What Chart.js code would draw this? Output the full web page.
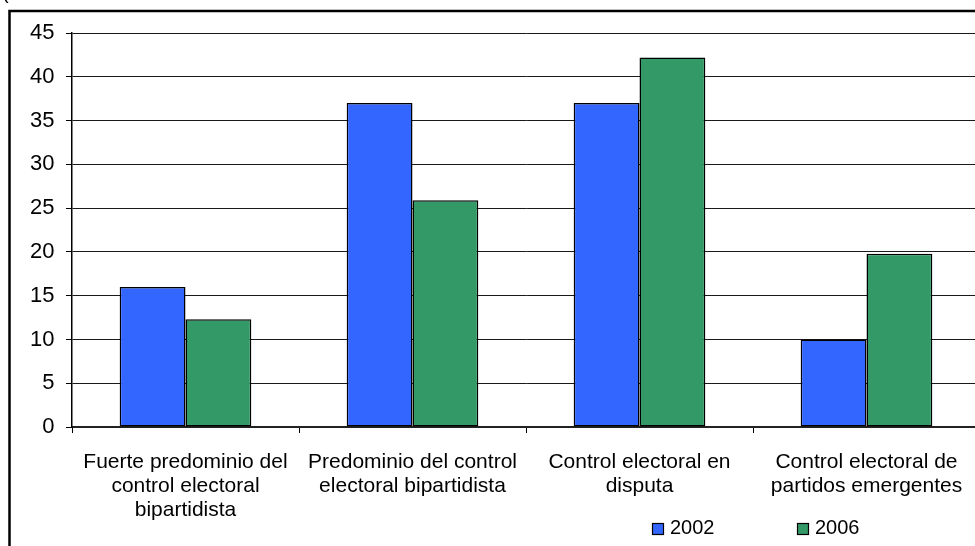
<!DOCTYPE html>
<html>
<head>
<meta charset="utf-8">
<script src="https://cdn.jsdelivr.net/npm/chart.js@4/dist/chart.umd.min.js"></script>
<style>
  html, body { margin: 0; padding: 0; background: #fff; overflow: hidden; }
  #wrap { position: relative; width: 1000px; height: 546px; }
</style>
</head>
<body>
<div id="wrap"><canvas id="c" width="1000" height="546"></canvas></div>
<script>
// Municipal electoral control types, share per year
const categories = [
  ["Fuerte predominio del", "control electoral", "bipartidista"],
  ["Predominio del control", "electoral bipartidista"],
  ["Control electoral en", "disputa"],
  ["Control electoral de", "partidos emergentes"]
];
const seriesNames = ["2002", "2006"];
const values2002 = [16.0, 37.0, 37.0, 10.0];
const values2006 = [12.3, 25.9, 42.2, 19.8];
const yTicks = [0, 5, 10, 15, 20, 25, 30, 35, 40, 45];

const FONT = "'Liberation Sans', Arial, sans-serif";
const colors = ["#3366FF", "#339966"];

// Frame, cut-off heading and a hand-placed legend
const decorations = {
  id: "decorations",
  afterDraw(chart) {
    const ctx = chart.ctx;
    ctx.save();
    ctx.strokeStyle = "#000";
    ctx.lineWidth = 2.5;
    ctx.strokeRect(9.5, 11, 1100, 600);

    ctx.fillStyle = "#000";
    ctx.font = "20px " + FONT;
    ctx.textBaseline = "alphabetic";
    ctx.textAlign = "left";
    ctx.fillText("(", 2, -1);

    const legendX = [652, 797];
    chart.data.datasets.forEach((ds, i) => {
      const x = legendX[i];
      ctx.fillStyle = ds.backgroundColor;
      ctx.fillRect(x, 523, 11, 11);
      ctx.strokeStyle = "#000";
      ctx.lineWidth = 1.2;
      ctx.strokeRect(x + 0.5, 523.5, 11, 11);
      ctx.fillStyle = "#000";
      ctx.textBaseline = "middle";
      ctx.fillText(ds.label, x + 18, 528.5);
    });
    ctx.restore();
  }
};

new Chart(document.getElementById("c"), {
  type: "bar",
  data: {
    labels: categories,
    datasets: [
      { label: seriesNames[0], data: values2002, backgroundColor: colors[0] },
      { label: seriesNames[1], data: values2006, backgroundColor: colors[1] }
    ]
  },
  options: {
    responsive: false,
    animation: false,
    devicePixelRatio: 1,
    layout: { padding: { top: 33, left: 0, right: 20, bottom: 0 } },
    datasets: {
      bar: {
        categoryPercentage: 0.58,
        barPercentage: 1.0,
        borderColor: "#000",
        borderWidth: 1.5,
        borderSkipped: false
      }
    },
    plugins: {
      legend: { display: false },
      tooltip: { enabled: false }
    },
    scales: {
      x: {
        afterFit(scale) { scale.height = 119; },
        grid: {
          display: true,
          offset: true,
          drawOnChartArea: false,
          drawTicks: true,
          tickLength: 6,
          color: "#000",
          lineWidth: 1
        },
        border: { display: true, color: "#222", width: 2 },
        ticks: {
          color: "#000",
          font: { family: FONT, size: 21, lineHeight: 24 / 21 },
          padding: 17,
          maxRotation: 0,
          autoSkip: false
        }
      },
      y: {
        min: 0,
        max: 45,
        afterFit(scale) { scale.width = 72; },
        afterBuildTicks(scale) { scale.ticks = yTicks.map(v => ({ value: v })); },
        grid: {
          color: "#1a1a1a",
          lineWidth: 1,
          drawTicks: true,
          tickLength: 6,
          tickColor: "#000"
        },
        border: { display: true, color: "#000", width: 1.5 },
        ticks: {
          color: "#000",
          font: { family: FONT, size: 22 },
          padding: 11.5
        }
      }
    }
  },
  plugins: [decorations]
});
</script>
</body>
</html>
